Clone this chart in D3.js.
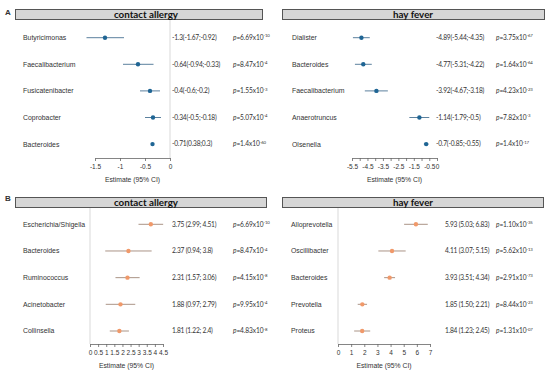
<!DOCTYPE html>
<html>
<head>
<meta charset="utf-8">
<script src="https://cdn.jsdelivr.net/npm/d3@7/dist/d3.min.js"></script>
<style>
  body { margin: 0; background: #fff; }
  svg text { font-family: "Liberation Sans", Arial, sans-serif; fill: #333; }
  .cal { font-family: Lato, "Liberation Sans", sans-serif; }
</style>
</head>
<body>
<div id="chart"></div>
<script>
// ---- A / contact allergy ----
const allergyTaxaA = ['Butyricimonas', 'Faecalibacterium', 'Fusicatenibacter', 'Coprobacter', 'Bacteroides'];
const allergyEstA = [-1.3, -0.64, -0.4, -0.34, -0.35];
const allergyLoA = [-1.67, -0.94, -0.6, -0.5, -0.36];
const allergyHiA = [-0.92, -0.33, -0.2, -0.18, -0.34];
const allergyCiA = ['-1.3(-1.67;-0.92)', '-0.64(-0.94;-0.33)', '-0.4(-0.6;-0.2)', '-0.34(-0.5;-0.18)', '-0.71(0.38;0.3)'];
const allergyPA = ['6.69', '8.47', '1.55', '5.07', '1.4'];
const allergyExpA = ['-10', '-4', '-3', '-4', '-60'];
const allergyTicksA = [-1.5, -1, -0.5, 0];
const allergyTickLabelsA = ['-1.5', '-1', '-0.5', '0'];

// ---- A / hay fever ----
const hayTaxaA = ['Dialister', 'Bacteroides', 'Faecalibacterium', 'Anaerotruncus', 'Olsenella'];
const hayEstA = [-4.89, -4.77, -3.92, -1.14, -0.7];
const hayLoA = [-5.44, -5.31, -4.67, -1.79, -0.85];
const hayHiA = [-4.35, -4.22, -3.18, -0.5, -0.55];
const hayCiA = ['-4.89(-5.44;-4.35)', '-4.77(-5.31;-4.22)', '-3.92(-4.67;-3.18)', '-1.14(-1.79;-0.5)', '-0.7(-0.85;-0.55)'];
const hayPA = ['3.75', '1.64', '4.23', '7.82', '1.4'];
const hayExpA = ['-67', '-64', '-23', '-3', '-17'];
const hayTicksA = [-5.5, -5, -4.5, -4, -3.5, -3, -2.5, -2, -1.5, -1, -0.5, 0];
const hayTickLabelsA = ['-5.5', '', '-4.5', '', '-3.5', '', '-2.5', '', '-1.5', '', '-0.5', '0'];

// ---- B / contact allergy ----
const allergyTaxaB = ['Escherichia/Shigella', 'Bacteroides', 'Ruminococcus', 'Acinetobacter', 'Collinsella'];
const allergyEstB = [3.75, 2.37, 2.31, 1.88, 1.81];
const allergyLoB = [2.99, 0.94, 1.57, 0.97, 1.22];
const allergyHiB = [4.51, 3.8, 3.06, 2.79, 2.4];
const allergyCiB = ['3.75 (2.99; 4.51)', '2.37 (0.94; 3.8)', '2.31 (1.57; 3.06)', '1.88 (0.97; 2.79)', '1.81 (1.22; 2.4)'];
const allergyPB = ['6.69', '8.47', '4.15', '9.95', '4.83'];
const allergyExpB = ['-10', '-4', '-8', '-4', '-8'];
const allergyTicksB = [0, 0.5, 1, 1.5, 2, 2.5, 3, 3.5, 4, 4.5];
const allergyTickLabelsB = ['0', '0.5', '1', '1.5', '2', '2.5', '3', '3.5', '4', '4.5'];

// ---- B / hay fever ----
const hayTaxaB = ['Alloprevotella', 'Oscillibacter', 'Bacteroides', 'Prevotella', 'Proteus'];
const hayEstB = [5.93, 4.11, 3.93, 1.85, 1.84];
const hayLoB = [5.03, 3.07, 3.51, 1.50, 1.23];
const hayHiB = [6.83, 5.15, 4.34, 2.21, 2.45];
const hayCiB = ['5.93 (5.03; 6.83)', '4.11 (3.07; 5.15)', '3.93 (3.51; 4.34)', '1.85 (1.50; 2.21)', '1.84 (1.23; 2.45)'];
const hayPB = ['1.10', '5.62', '2.91', '8.44', '1.31'];
const hayExpB = ['-35', '-13', '-73', '-23', '-07'];
const hayTicksB = [0, 1, 2, 3, 4, 5, 6, 7];
const hayTickLabelsB = ['0', '1', '2', '3', '4', '5', '6', '7'];

const width = 550, height = 380;
const blue = { line: '#4a7393', dot: '#1f6594' };
const orange = { line: '#a08878', dot: '#f0996a' };

// layout of the four panels
const panels = [
  { title: 'contact allergy', titleX: 146, box: [15, 262], top: 9, rows: [37.7, 144.1], axisY: 158,
    range: [95, 170], labelX: 23, ciX: 172, pX: 233, zero: true, col: blue,
    taxa: allergyTaxaA, est: allergyEstA, lo: allergyLoA, hi: allergyHiA, ci: allergyCiA, p: allergyPA, exp: allergyExpA,
    ticks: allergyTicksA, tickLabels: allergyTickLabelsA },
  { title: 'hay fever', titleX: 413, box: [282, 544], top: 9, rows: [37.7, 144.1], axisY: 158,
    range: [352, 437], labelX: 292, ciX: 436, pX: 496, zero: false, col: blue,
    taxa: hayTaxaA, est: hayEstA, lo: hayLoA, hi: hayHiA, ci: hayCiA, p: hayPA, exp: hayExpA,
    ticks: hayTicksA, tickLabels: hayTickLabelsA },
  { title: 'contact allergy', titleX: 146, box: [15, 266], top: 197, rows: [224.3, 331], axisY: 344,
    range: [90, 163], labelX: 23, ciX: 172, pX: 233, zero: true, col: orange,
    taxa: allergyTaxaB, est: allergyEstB, lo: allergyLoB, hi: allergyHiB, ci: allergyCiB, p: allergyPB, exp: allergyExpB,
    ticks: allergyTicksB, tickLabels: allergyTickLabelsB },
  { title: 'hay fever', titleX: 413, box: [282, 543], top: 197, rows: [224.3, 331], axisY: 344,
    range: [338, 430], labelX: 291, ciX: 445, pX: 496, zero: true, col: orange,
    taxa: hayTaxaB, est: hayEstB, lo: hayLoB, hi: hayHiB, ci: hayCiB, p: hayPB, exp: hayExpB,
    ticks: hayTicksB, tickLabels: hayTickLabelsB }
];

const svg = d3.select('#chart').append('svg')
  .attr('width', width)
  .attr('height', height);

// panel letters
svg.append('text').attr('x', 5).attr('y', 15).attr('font-size', 8).attr('font-weight', 'bold').text('A');
svg.append('text').attr('x', 5).attr('y', 201).attr('font-size', 8).attr('font-weight', 'bold').text('B');

panels.forEach(p => {
  const g = svg.append('g');
  const x = d3.scaleLinear()
    .domain([p.ticks[0], p.ticks[p.ticks.length - 1]])
    .range(p.range);
  const y = d3.scalePoint().domain(p.taxa).range(p.rows);

  // header strip
  g.append('rect')
    .attr('x', p.box[0] + 0.5).attr('y', p.top + 0.5)
    .attr('width', p.box[1] - p.box[0]).attr('height', 10)
    .attr('fill', '#d6d6d6').attr('stroke', '#555').attr('stroke-width', 1);
  g.append('text')
    .attr('class', 'cal')
    .attr('x', p.titleX).attr('y', p.top + 8.8)
    .attr('text-anchor', 'middle')
    .attr('font-size', 9.8).attr('font-weight', 'bold')
    .style('fill', '#111')
    .text(p.title);

  // zero line
  if (p.zero) {
    g.append('line')
      .attr('x1', x(0)).attr('x2', x(0))
      .attr('y1', p.top + 11).attr('y2', p.axisY)
      .attr('stroke', '#d9d9d9').attr('stroke-width', 1);
  }

  // axis
  const axis = d3.axisBottom(x)
    .tickValues(p.ticks)
    .tickFormat((d, i) => p.tickLabels[i])
    .tickSize(3)
    .tickSizeOuter(0);
  const ax = g.append('g')
    .attr('transform', 'translate(0,' + p.axisY + ')')
    .call(axis);
  ax.selectAll('path, line').attr('stroke', '#666').attr('stroke-width', 0.8);
  ax.selectAll('text').attr('font-size', 6.5).attr('y', 6).style('fill', '#333')
    .attr('font-family', '"Liberation Sans", Arial, sans-serif');
  g.append('text')
    .attr('x', (p.range[0] + p.range[1]) / 2).attr('y', p.axisY + 24)
    .attr('text-anchor', 'middle').attr('font-size', 6.8)
    .text('Estimate (95% CI)');

  const rows = g.selectAll('.row')
    .data(p.taxa.map((t, i) => ({ t, i })))
    .enter().append('g').attr('class', 'row');

  rows.append('text')
    .attr('x', p.labelX).attr('y', d => y(d.t) + 2.4)
    .attr('font-size', 6.9)
    .text(d => d.t);

  rows.append('line')
    .attr('x1', d => x(p.lo[d.i])).attr('x2', d => x(p.hi[d.i]))
    .attr('y1', d => y(d.t)).attr('y2', d => y(d.t))
    .attr('stroke', p.col.line).attr('stroke-width', 0.9);

  rows.append('circle')
    .attr('cx', d => x(p.est[d.i])).attr('cy', d => y(d.t))
    .attr('r', 2.2)
    .attr('fill', p.col.dot);

  rows.append('text')
    .attr('class', 'cal')
    .attr('x', p.ciX).attr('y', d => y(d.t) + 2.3)
    .attr('font-size', 6.6).attr('letter-spacing', -0.2)
    .text(d => p.ci[d.i]);

  const pt = rows.append('text')
    .attr('class', 'cal')
    .attr('x', p.pX).attr('y', d => y(d.t) + 2.3)
    .attr('font-size', 6.6).attr('letter-spacing', -0.1);
  pt.append('tspan').attr('font-style', 'italic').text('p');
  pt.append('tspan').text(d => '=' + p.p[d.i] + 'x10');
  pt.append('tspan').attr('dy', -2.6).attr('font-size', 4.3).text(d => p.exp[d.i]);
});
</script>
</body>
</html>
